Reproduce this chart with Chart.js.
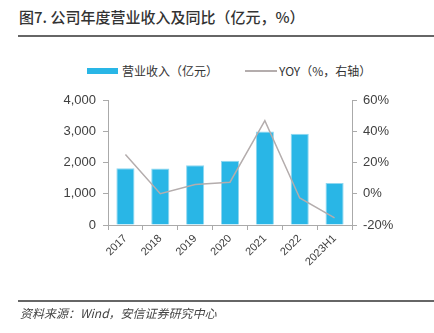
<!DOCTYPE html>
<html>
<head>
<meta charset="utf-8">
<script src="https://cdn.jsdelivr.net/npm/chart.js@4"></script>
<style>
  html, body { margin: 0; padding: 0; background: #fff; }
  #wrap { position: relative; width: 434px; height: 333px; overflow: hidden;
    font-family: "Noto Sans CJK SC", "Noto Sans", sans-serif; color: #333; }
  #title { position: absolute; left: 19px; top: 6px; font-size: 15px; font-weight: 500; color: #333; white-space: nowrap; }
  .rule { position: absolute; left: 18px; right: 0; height: 2px; background: #666; }
  #source { position: absolute; left: 20px; top: 304px; font-size: 12px; font-style: italic; color: #444; white-space: nowrap; }
  .legend { position: absolute; top: 62px; font-size: 12px; color: #333; white-space: nowrap; }
  .swatch { position: absolute; }
  canvas { position: absolute; left: 0; top: 0; }
</style>
</head>
<body>
<div id="wrap">
  <div id="title">图7. 公司年度营业收入及同比（亿元，%）</div>
  <div class="rule" style="top:35px"></div>
  <div class="swatch" style="left:87px; top:68px; width:31px; height:6px; background:#29b6e6"></div>
  <div class="legend" style="left:122px">营业收入（亿元）</div>
  <div class="swatch" style="left:245px; top:70px; width:32px; height:1.5px; background:#b4adad"></div>
  <div class="legend" style="left:279px">YOY（%，右轴）</div>
  <canvas id="chart" width="434" height="333"></canvas>
  <div class="rule" style="top:300px"></div>
  <div id="source">资料来源：Wind，安信证券研究中心</div>
</div>
<script>
const years = ["2017", "2018", "2019", "2020", "2021", "2022", "2023H1"];
const revenue = [1817, 1808, 1913, 2054, 2995, 2921, 1348];
const yoy = [25.1, 0.0, 5.9, 7.4, 46.8, -2.7, -15.5];

const axisColor = "#aaaaaa";
const tickColor = "#404040";

new Chart(document.getElementById("chart"), {
  type: "bar",
  data: {
    labels: years,
    datasets: [
      {
        type: "line",
        data: yoy,
        yAxisID: "y1",
        borderColor: "#b4adad",
        borderWidth: 1.5,
        pointRadius: 0,
        tension: 0,
        order: 0,
      },
      {
        data: revenue,
        yAxisID: "y",
        backgroundColor: "#29b6e6",
        borderColor: "#8fd7f0",
        borderWidth: { top: 1, left: 1, right: 1, bottom: 0 },
        barPercentage: 0.52,
        categoryPercentage: 1,
        order: 1,
      },
    ],
  },
  options: {
    responsive: false,
    animation: false,
    layout: { padding: { top: 100, left: 0, right: 0, bottom: 0 } },
    plugins: { legend: { display: false }, tooltip: { enabled: false } },
    scales: {
      x: {
        grid: { drawOnChartArea: false, color: axisColor, tickLength: 5, offset: true },
        border: { color: axisColor },
        ticks: {
          color: tickColor,
          font: { family: "Liberation Sans", size: 11 },
          minRotation: 45,
          maxRotation: 45,
          padding: 2,
        },
        afterFit: (axis) => { axis.height = 108; },
      },
      y: {
        position: "left",
        min: 0,
        max: 4000,
        grid: { drawOnChartArea: false, color: axisColor, tickLength: 5 },
        border: { color: axisColor },
        ticks: {
          stepSize: 1000,
          color: tickColor,
          padding: 7,
          font: { family: "Liberation Sans", size: 13 },
          callback: (v) => v.toLocaleString("en-US"),
        },
        afterFit: (axis) => { axis.width = 108; },
      },
      y1: {
        position: "right",
        min: -20,
        max: 60,
        grid: { drawOnChartArea: false, color: axisColor, tickLength: 5 },
        border: { color: axisColor },
        ticks: {
          stepSize: 20,
          color: tickColor,
          padding: 6,
          font: { family: "Liberation Sans", size: 13 },
          callback: (v) => v + "%",
        },
        afterFit: (axis) => { axis.width = 82; },
      },
    },
  },
});
</script>
</body>
</html>
